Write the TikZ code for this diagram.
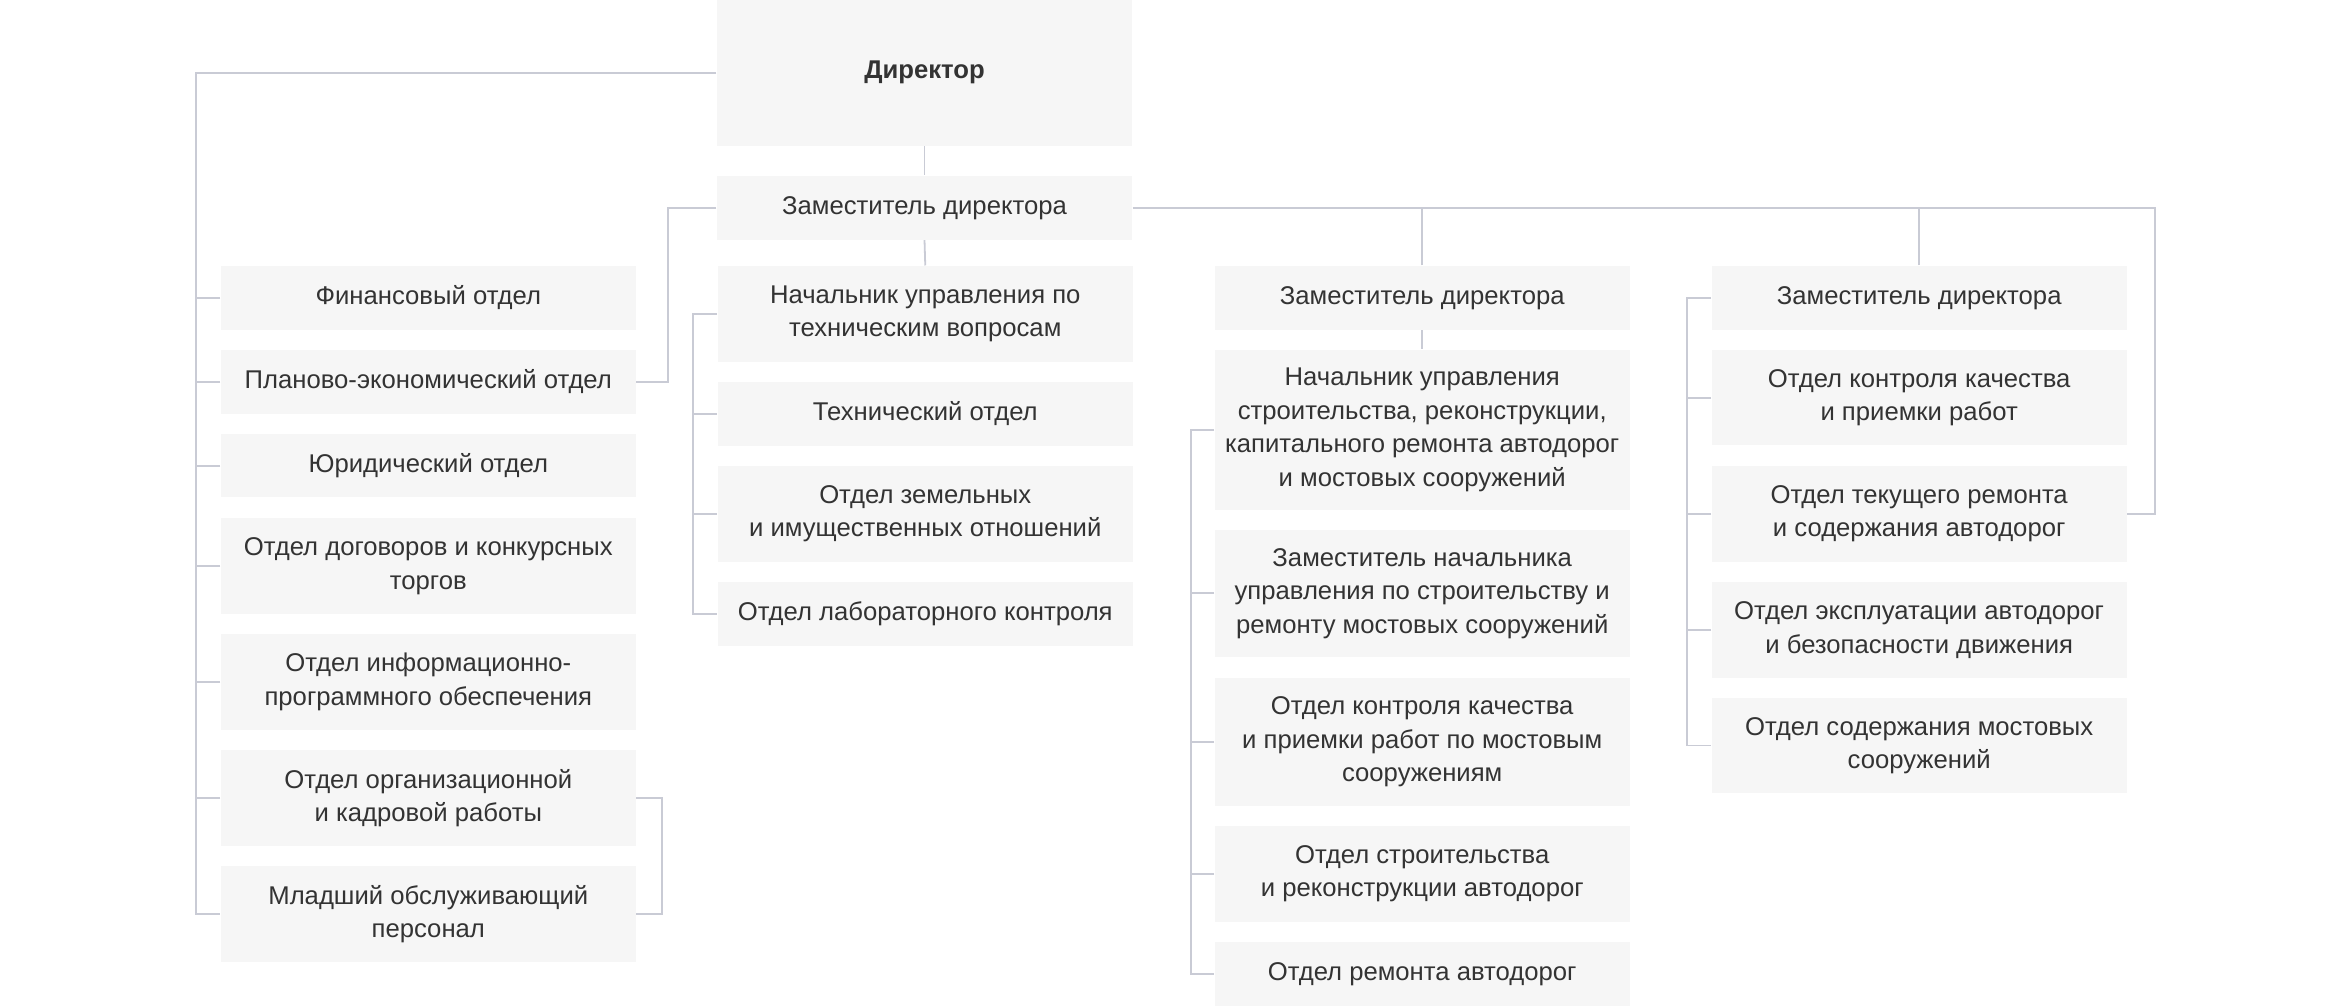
\documentclass[tikz,border=0pt]{standalone}
\usepackage{fontspec}
\setmainfont{Liberation Sans}
\definecolor{boxgray}{HTML}{F6F6F6}
\definecolor{linegray}{HTML}{C9CBD5}
\definecolor{textgray}{HTML}{333333}
\tikzset{
  box/.style={fill=boxgray, text=textgray, align=center, inner sep=0pt,
    minimum width=139pt, minimum height=#1,
    font=\fontsize{8.6}{11.2}\selectfont},
  box/.default=21.3pt,
  link/.style={draw=linegray, line width=0.6pt}
}
\begin{document}
\begin{tikzpicture}[x=0.5pt,y=-0.5pt]
\useasboundingbox (0,0) rectangle (1568,674);
% top
\node[box=48.8pt, font=\fontsize{8.6}{11.2}\selectfont\bfseries] (dir) at (619.5,48.8){Директор};
\node[box] (dep1) at (619.5,139.2){Заместитель директора};
% left column
\node[box] (fin) at (287,199.7){Финансовый отдел};
\node[box] (plan) at (287,255.9){Планово-экономический отдел};
\node[box] (yur) at (287,312){Юридический отдел};
\node[box=32.2pt] (dog) at (287,379.3){Отдел договоров и конкурсных\\торгов};
\node[box=32.2pt] (info) at (287,457){Отдел информационно-\\программного обеспечения};
\node[box=32.2pt] (org) at (287,534.8){Отдел организационной\\и кадровой работы};
\node[box=32.2pt] (mlad) at (287,612.5){Младший обслуживающий\\персонал};
% second column
\node[box=32.1pt] (nachteh) at (620,210.4){Начальник управления по\\техническим вопросам};
\node[box] (teh) at (620,277.4){Технический отдел};
\node[box=32.1pt] (zem) at (620,344.4){Отдел земельных\\и имущественных отношений};
\node[box] (lab) at (620,411.4){Отдел лабораторного контроля};
% third column
\node[box] (zam2) at (953,199.6){Заместитель директора};
\node[box=53.5pt] (nachstr) at (953,288){Начальник управления\\строительства, реконструкции,\\капитального ремонта автодорог\\и мостовых сооружений};
\node[box=42.5pt] (zamnach) at (953,397.6){Заместитель начальника\\управления по строительству и\\ремонту мостовых сооружений};
\node[box=42.7pt] (kontmost) at (953,497.2){Отдел контроля качества\\и приемки работ  по мостовым\\сооружениям};
\node[box=32pt] (stroit) at (953,585.6){Отдел строительства\\и реконструкции автодорог};
\node[box] (remont) at (953,652.8){Отдел ремонта автодорог};
% fourth column
\node[box] (zam3) at (1286,199.6){Заместитель директора};
\node[box=32pt] (kontr) at (1286,266.5){Отдел контроля качества\\и приемки работ};
\node[box=32pt] (tek) at (1286,344.3){Отдел текущего ремонта\\и содержания автодорог};
\node[box=32pt] (ekspl) at (1286,422.3){Отдел эксплуатации автодорог\\и безопасности движения};
\node[box=32pt] (sod) at (1286,499.5){Отдел содержания  мостовых\\сооружений};
% links
\draw[link] (dir.south) -- (dep1.north);
\draw[link] (dep1.south) -- (nachteh.north);
\draw[link] (zam2.south) -- (nachstr.north);
\draw[link] (dir.west) -| ([xshift=-8.25pt]mlad.west) -- (mlad.west);
\foreach \n in {fin,plan,yur,dog,info,org}
  \draw[link] (\n.west) -- ++(-16.5,0);
\draw[link] (dep1.west) -| ([xshift=10.5pt]plan.east) -- (plan.east);
\draw[link] (org.east) -- ++(17,0) |- (mlad.east);
\draw[link] (nachteh.west) -- ++(-16.5,0) |- (lab.west);
\foreach \n in {teh,zem}
  \draw[link] (\n.west) -- ++(-16.5,0);
\draw[link] (dep1.east) -| ([xshift=9.2pt]tek.east) -- (tek.east);
\draw[link] (zam2.north) -- (zam2.north |- dep1.east);
\draw[link] (zam3.north) -- (zam3.north |- dep1.east);
\draw[link] (nachstr.west) -- ++(-15.5,0) |- (remont.west);
\foreach \n in {zamnach,kontmost,stroit}
  \draw[link] (\n.west) -- ++(-15.5,0);
\draw[link] (zam3.west) -- ++(-16,0) |- (sod.west);
\foreach \n in {kontr,tek,ekspl}
  \draw[link] (\n.west) -- ++(-16,0);
\end{tikzpicture}
\end{document}
